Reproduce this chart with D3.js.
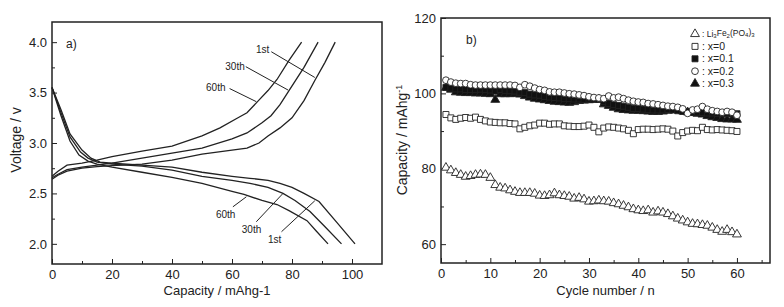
<!DOCTYPE html>
<html>
<head>
<meta charset="utf-8">
<script src="https://cdn.jsdelivr.net/npm/d3@7"></script>
<style>
  body { margin: 0; background: #fff; }
  svg { font-family: "Liberation Sans", Arial, sans-serif; }
  .tick text { font-size: 13px; fill: #222; }
  .tick line { stroke: #222; }
</style>
</head>
<body>
<div id="chart"></div>
<script>
// ---- panel a) charge / discharge curves [capacity, voltage]
const charge1 = [[0,2.64],[2,2.68],[5,2.72],[10,2.75],[15,2.765],[20,2.775],[30,2.79],[40,2.83],[50,2.89],[60,2.93],[65,2.95],[69,3.0],[72,3.07],[76,3.15],[80,3.25],[84,3.42],[87.6,3.62],[91,3.8],[94.4,4.0]];
const charge30 = [[0,2.655],[2,2.69],[5,2.735],[10,2.76],[15,2.78],[20,2.80],[30,2.85],[40,2.90],[50,2.95],[60,3.04],[65,3.10],[70,3.2],[73,3.27],[76,3.38],[79,3.52],[84,3.75],[88.7,4.0]];
const charge60 = [[0,2.67],[2,2.72],[5,2.78],[10,2.80],[15,2.83],[20,2.865],[30,2.92],[40,2.97],[50,3.07],[56,3.15],[62,3.25],[65,3.30],[68.5,3.41],[72,3.52],[75,3.63],[79,3.82],[83.2,4.0]];
const discharge1 = [[0,3.55],[3,3.33],[6,3.09],[10,2.93],[13,2.85],[16,2.81],[20,2.80],[30,2.78],[40,2.76],[50,2.71],[60,2.67],[66,2.65],[72,2.63],[76,2.60],[80,2.56],[84,2.50],[89,2.42],[95,2.21],[101,2.0]];
const discharge30 = [[0,3.55],[3,3.30],[6,3.06],[9.5,2.91],[12,2.85],[15,2.81],[20,2.79],[30,2.77],[40,2.73],[50,2.67],[60,2.63],[66,2.60],[72,2.56],[77,2.50],[81,2.43],[86,2.32],[91,2.17],[96.5,2.0]];
const discharge60 = [[0,3.55],[3,3.27],[6,3.02],[9,2.88],[12,2.82],[15,2.79],[20,2.76],[30,2.71],[40,2.66],[50,2.60],[60,2.52],[64,2.49],[70,2.43],[75,2.39],[79,2.33],[85,2.23],[88,2.13],[92,2.0]];

// curve labels: text position and leader line (data units)
const curveLabels = [
  {text: "1st",  tx: 70.2, ty: 3.93, line: [[73.1,3.905],[87.6,3.65]]},
  {text: "30th", tx: 61.0, ty: 3.76, line: [[64.6,3.757],[78.7,3.525]]},
  {text: "60th", tx: 54.6, ty: 3.55, line: [[59.2,3.54],[68.1,3.41]]},
  {text: "60th", tx: 57.9, ty: 2.29, line: [[60.3,2.367],[64.8,2.467]]},
  {text: "30th", tx: 66.5, ty: 2.14, line: [[68.1,2.219],[77.0,2.50]]},
  {text: "1st",  tx: 74.2, ty: 2.04, line: [[76.5,2.12],[87.6,2.427]]}
];

const aTicksX = [0, 20, 40, 60, 80, 100];
const aMinorX = [10, 30, 50, 70, 90];
const aTicksY = [2.0, 2.5, 3.0, 3.5, 4.0];
const aMinorY = [2.25, 2.75, 3.25, 3.75];

// ---- panel b) cycling, capacity per cycle 1..60
const cycles = d3.range(1, 61);
const liFe = [80.3,79.6,78.9,78.4,77.9,78.1,78.4,78.5,78.4,77.6,75.7,75.0,74.8,74.3,73.9,73.6,73.6,73.6,73.4,72.9,72.8,73.0,73.5,73.0,72.8,72.6,72.1,72.3,71.9,71.3,71.4,71.6,71.4,71.3,70.9,70.6,70.2,69.8,69.3,69.0,68.8,69.0,68.4,68.7,68.4,68.0,67.4,66.8,66.3,65.8,65.4,65.3,65.1,64.9,64.4,63.8,63.3,63.8,63.2,62.6];
const x00 = [94.4,93.5,93.1,93.4,93.6,93.4,93.7,93.1,92.7,92.4,92.3,92.2,92.2,92.0,91.9,90.6,91.0,91.4,91.6,92.1,92.1,91.8,91.9,91.9,91.4,91.3,91.2,91.2,91.3,91.6,91.0,89.8,90.8,91.1,91.0,90.8,90.6,90.2,89.3,90.4,90.5,90.5,90.4,90.5,90.6,90.5,90.0,88.7,89.6,90.0,90.2,90.1,91.0,90.4,90.3,90.4,90.3,90.2,90.1,89.9];
const x01 = [101.6,101.4,101.2,101.2,101.0,101.0,101.0,101.1,101.0,100.9,100.6,101.0,100.8,100.7,100.6,100.3,100.2,99.8,99.6,99.5,99.2,99.0,98.9,98.8,98.6,98.6,98.5,98.5,98.4,98.5,98.5,98.4,97.8,97.3,97.0,96.8,96.6,96.3,96.0,96.0,95.8,95.7,95.6,95.6,95.6,95.7,95.6,95.4,95.2,95.2,95.0,95.0,94.9,94.8,94.8,94.7,94.7,94.7,94.6,94.6];
const x02 = [103.5,103.0,102.7,102.6,102.6,102.3,102.2,102.2,102.2,102.2,102.2,102.2,102.2,102.2,102.1,101.6,102.3,101.9,101.4,101.0,100.8,100.4,100.3,100.3,100.1,99.9,99.8,99.6,99.4,99.1,98.9,98.8,98.6,99.3,98.8,99.0,98.6,98.2,97.9,97.7,97.6,97.3,97.2,97.0,96.8,96.6,96.5,96.3,95.9,94.7,95.6,95.8,96.5,95.8,95.4,95.2,95.0,95.2,95.0,94.2];
const x03 = [101.5,101.0,100.3,100.2,100.1,100.1,100.0,100.0,99.9,99.8,98.3,99.8,99.8,99.8,99.9,99.7,99.3,98.9,98.6,98.4,98.2,98.0,97.8,97.7,97.6,97.5,97.7,98.0,98.1,98.2,98.3,98.4,97.1,96.7,96.2,95.8,95.6,95.5,95.4,95.4,95.3,95.2,95.1,95.1,95.2,95.4,95.6,95.7,95.3,95.0,94.8,94.6,94.4,94.0,93.7,93.5,93.2,93.1,93.1,93.0];

const bTicksX = [0, 10, 20, 30, 40, 50, 60];
const bMinorX = [5, 15, 25, 35, 45, 55, 65];
const bTicksY = [60, 80, 100, 120];
const bMinorY = [70, 90, 110];

const ink = "#222";

const svg = d3.select("#chart")
    .append("svg")
    .attr("width", 784)
    .attr("height", 307);

// scales
const xA = d3.scaleLinear().domain([0, 110]).range([52, 382]);
const yA = d3.scaleLinear().domain([1.8, 4.2]).range([264, 22]);
const xB = d3.scaleLinear().domain([0, 66.7]).range([441, 770]);
const yB = d3.scaleLinear().domain([55, 120]).range([263, 18]);

// inward ticks, no domain path (frame drawn as rect)
function drawAxes(xs, ys, tx, mx, ty, my, fmtY) {
    const yb = ys.range()[0], xl = xs.range()[0];
    const gx = svg.append("g").attr("transform", `translate(0,${yb})`)
        .call(d3.axisBottom(xs).tickValues(tx).tickSizeInner(-5).tickSizeOuter(0).tickPadding(6));
    gx.select(".domain").remove();
    const gxm = svg.append("g").attr("transform", `translate(0,${yb})`)
        .call(d3.axisBottom(xs).tickValues(mx).tickSizeInner(-3).tickSizeOuter(0).tickFormat(""));
    gxm.select(".domain").remove();

    const gy = svg.append("g").attr("transform", `translate(${xl},0)`)
        .call(d3.axisLeft(ys).tickValues(ty).tickSizeInner(-5).tickSizeOuter(0).tickPadding(5).tickFormat(fmtY));
    gy.select(".domain").remove();
    const gym = svg.append("g").attr("transform", `translate(${xl},0)`)
        .call(d3.axisLeft(ys).tickValues(my).tickSizeInner(-3).tickSizeOuter(0).tickFormat(""));
    gym.select(".domain").remove();

    svg.append("rect")
        .attr("x", xs.range()[0])
        .attr("y", ys.range()[1])
        .attr("width", xs.range()[1] - xs.range()[0])
        .attr("height", ys.range()[0] - ys.range()[1])
        .attr("fill", "none")
        .attr("stroke", ink)
        .attr("stroke-width", 1.5);
}

// ===== panel a
drawAxes(xA, yA, aTicksX, aMinorX, aTicksY, aMinorY, d3.format(".1f"));

const lineA = d3.line().x(d => xA(d[0])).y(d => yA(d[1]));

svg.append("g")
    .selectAll("path")
    .data([charge1, charge30, charge60, discharge1, discharge30, discharge60])
    .enter()
    .append("path")
    .attr("d", lineA)
    .attr("fill", "none")
    .attr("stroke", ink)
    .attr("stroke-width", 1.3);

const labA = svg.append("g");
labA.selectAll("path")
    .data(curveLabels)
    .enter()
    .append("path")
    .attr("d", d => lineA(d.line))
    .attr("stroke", ink)
    .attr("stroke-width", 1);
labA.selectAll("text")
    .data(curveLabels)
    .enter()
    .append("text")
    .attr("x", d => xA(d.tx))
    .attr("y", d => yA(d.ty))
    .attr("dy", "0.35em")
    .attr("text-anchor", "middle")
    .attr("font-size", 10)
    .attr("fill", ink)
    .text(d => d.text);

svg.append("text")
    .attr("x", 66).attr("y", 48)
    .attr("font-size", 12).attr("fill", ink)
    .text("a)");

svg.append("text")
    .attr("x", (xA.range()[0] + xA.range()[1]) / 2)
    .attr("y", 295)
    .attr("text-anchor", "middle")
    .attr("font-size", 13).attr("fill", ink)
    .text("Capacity / mAhg-1");

svg.append("text")
    .attr("transform", "translate(21,140) rotate(-90)")
    .attr("text-anchor", "middle")
    .attr("font-size", 14).attr("fill", ink)
    .text("Voltage / v");

// ===== panel b
drawAxes(xB, yB, bTicksX, bMinorX, bTicksY, bMinorY, d3.format("d"));

const series = [
    {name: "Li3Fe2(PO4)3", values: liFe, shape: d3.symbolTriangle, size: 34, fill: "#fff"},
    {name: ": x=0",   values: x00, shape: d3.symbolSquare,   size: 36, fill: "#fff"},
    {name: ": x=0.1", values: x01, shape: d3.symbolSquare,   size: 36, fill: "#111"},
    {name: ": x=0.2", values: x02, shape: d3.symbolCircle,   size: 36, fill: "#fff"},
    {name: ": x=0.3", values: x03, shape: d3.symbolTriangle, size: 34, fill: "#111"}
];

// filled ones first, open circles end up on top
const drawOrder = [0, 1, 4, 2, 3];
drawOrder.forEach(i => {
    const s = series[i];
    svg.append("g")
        .selectAll("path")
        .data(cycles)
        .enter()
        .append("path")
        .attr("transform", (c, k) => `translate(${xB(c)},${yB(s.values[k])})`)
        .attr("d", d3.symbol().type(s.shape).size(s.size))
        .attr("fill", s.fill)
        .attr("stroke", ink)
        .attr("stroke-width", 0.9);
});

svg.append("text")
    .attr("x", 466).attr("y", 44)
    .attr("font-size", 12).attr("fill", ink)
    .text("b)");

// legend
const leg = svg.append("g").attr("transform", "translate(695,34)");
series.forEach((s, i) => {
    leg.append("path")
        .attr("transform", `translate(0,${i * 12.4})`)
        .attr("d", d3.symbol().type(s.shape).size(s.size))
        .attr("fill", s.fill)
        .attr("stroke", ink)
        .attr("stroke-width", 0.9);
    if (i > 0) {
        leg.append("text")
            .attr("x", 7).attr("y", i * 12.4).attr("dy", "0.35em")
            .attr("font-size", 10.5).attr("fill", ink)
            .text(s.name);
    }
});
const liText = leg.append("text")
    .attr("x", 7).attr("y", 0).attr("dy", "0.35em")
    .attr("font-size", 8.5).attr("fill", ink);
liText.append("tspan").text(": Li");
liText.append("tspan").attr("font-size", 6).attr("dy", "0.25em").text("3");
liText.append("tspan").attr("dy", "-0.25em").text("Fe");
liText.append("tspan").attr("font-size", 6).attr("dy", "0.25em").text("2");
liText.append("tspan").attr("dy", "-0.25em").text("(PO");
liText.append("tspan").attr("font-size", 6).attr("dy", "0.25em").text("4");
liText.append("tspan").attr("dy", "-0.25em").text(")");
liText.append("tspan").attr("font-size", 6).attr("dy", "0.25em").text("3");

svg.append("text")
    .attr("x", (xB.range()[0] + xB.range()[1]) / 2)
    .attr("y", 295)
    .attr("text-anchor", "middle")
    .attr("font-size", 13).attr("fill", ink)
    .text("Cycle number / n");

const yt = svg.append("text")
    .attr("transform", "translate(407,140) rotate(-90)")
    .attr("text-anchor", "middle")
    .attr("font-size", 14).attr("fill", ink);
yt.append("tspan").text("Capacity / mAhg");
yt.append("tspan").attr("font-size", 9).attr("dy", "-0.6em").text("-1");
</script>
</body>
</html>
